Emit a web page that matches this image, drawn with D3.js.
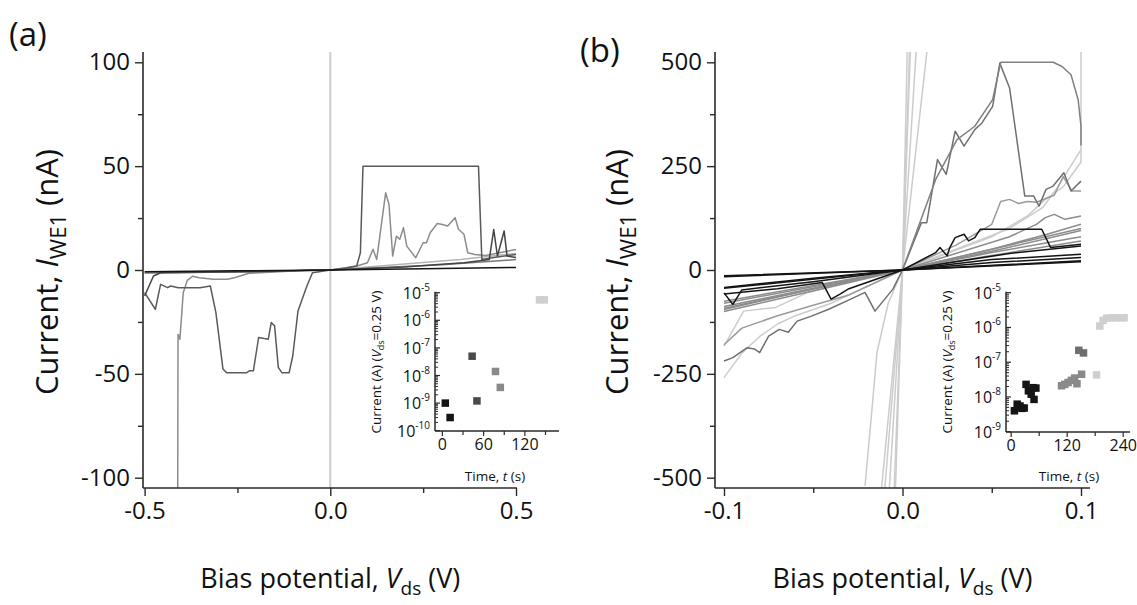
<!DOCTYPE html>
<html><head><meta charset="utf-8">
<script src="https://cdn.jsdelivr.net/npm/d3@7"></script>
<style>
body{margin:0;background:#fff}
svg{display:block}
text{font-family:'Open Sans',Lato,sans-serif;fill:#111}
</style>
</head><body>
<svg id="c" width="1137" height="605"></svg>
<script>
// ---------- Panel (a) data : [V (V), I (nA)] ----------
const aTicksY = [-100, -50, 0, 50, 100];
const aMinorY = [-75, -25, 25, 75];
const aTicksX = [-0.5, 0, 0.5];
const aMinorX = [-0.25, 0.25];

const aShort = [[-0.0004, -1000], [0.0004, 1000]];
const aLightFlat = [[-0.5, -1.2], [-0.2, -0.6], [0, 0], [0.35, 5], [0.5, 8]];
const aGreySpiky = [[-0.413, -300], [-0.41, -31], [-0.405, -33.3], [-0.396, -11], [-0.385, -5], [-0.371, -3],
  [-0.353, -3.7], [-0.315, -4.5], [-0.277, -4.5], [-0.258, -3.7], [-0.219, -1.6], [-0.15, -1], [-0.055, 0], [0, 0],
  [0.072, 1.9], [0.1, 3.5], [0.115, 10], [0.125, 5.1], [0.149, 37.2], [0.158, 31.6], [0.168, 6.7], [0.178, 16.3],
  [0.187, 14.8], [0.197, 20.4], [0.206, 11.5], [0.23, 5.9], [0.25, 13.1], [0.259, 13.1], [0.269, 17.9], [0.288, 22.4],
  [0.302, 21.9], [0.316, 21.2], [0.336, 25.2], [0.345, 19.6], [0.36, 17.2], [0.37, 8.3], [0.389, 7.5], [0.418, 7],
  [0.456, 8.3], [0.5, 9.9]];
const aGreyFlat = [[-0.5, -1.5], [-0.2, -0.8], [0, 0], [0.3, 2.5], [0.5, 5]];
const aDarkLoop = [[-0.5, -10.9], [-0.471, -18.9], [-0.457, -6.9], [-0.438, -8.5], [-0.43, -7.7], [-0.409, -8.5],
  [-0.389, -8.5], [-0.351, -8.5], [-0.323, -7.7], [-0.308, -20.5], [-0.289, -47.7], [-0.279, -49.5], [-0.226, -49.5],
  [-0.217, -48.5], [-0.207, -48.5], [-0.193, -32.5], [-0.178, -33], [-0.167, -33.3], [-0.159, -25.3], [-0.15, -26.9],
  [-0.14, -46.9], [-0.13, -49.5], [-0.111, -49.5], [-0.101, -41.3], [-0.087, -19.7], [-0.063, -7.7], [-0.048, -1.3],
  [0, 0], [0.04, 0.8], [0.071, 1.9], [0.081, 8.3], [0.088, 50], [0.399, 50], [0.408, 5.1], [0.44, 6], [0.5, 7.5]];
const aDarkSpiky = [[-0.5, -12.5], [-0.476, -2.9], [-0.457, -1.3], [-0.3, -1], [0, 0], [0.2, 1.5], [0.3, 2.8],
  [0.36, 3.5], [0.428, 5], [0.44, 19.5], [0.45, 6.7], [0.468, 18.8], [0.476, 6.7], [0.5, 6]];
const aBlackFlat = [[-0.5, -0.8], [-0.25, -0.4], [0, 0], [0.25, 0.6], [0.5, 1.2]];

// inset (a): [time (s), current (A)]
const aInsetBlack = [[5, 1.0e-9], [12, 3.0e-10]];
const aInsetDark = [[44, 5.0e-8], [51, 1.2e-9]];
const aInsetMid = [[78, 1.4e-8], [85, 3.7e-9]];
const aInsetLight = [[142, 5.5e-6], [149, 5.5e-6]];
const aInsetTicksX = [0, 60, 120];
const aInsetMinorX = [30, 90, 150];

// ---------- Panel (b) data ----------
const bTicksY = [-500, -250, 0, 250, 500];
const bMinorY = [-375, -125, 125, 375];
const bTicksX = [-0.1, 0, 0.1];
const bMinorX = [-0.05, 0.05];

const bLight1 = [[-0.0045, -600], [0, 0], [0.0045, 600]];
const bLight2 = [[-0.0084, -600], [0, 0], [0.0087, 600]];
const bLight3 = [[-0.0113, -600], [0, 0], [0.0156, 600]];
const bLight4 = [[-0.0134, -600], [0, 0], [0.005, 600]];
const bLight5 = [[-0.021, -520], [-0.017, -330], [-0.0143, -198], [-0.008, -80], [0, 0]];
const bLight6 = [[-0.0053, -600], [0, 0], [0.003, 600]];
const bLight7 = [[-0.1, -183], [-0.089, -99], [-0.071, -90], [-0.053, -54], [0, 0], [0.05, 80], [0.07, 130],
  [0.08, 170], [0.09, 200], [0.095, 230], [0.1, 260], [0.1, 800]];
const bLight8 = [[-0.1, -259], [-0.09, -200], [-0.08, -160], [-0.07, -130], [-0.06, -110], [-0.04, -80], [0, 0],
  [0.06, 100], [0.0785, 150], [0.087, 200], [0.1, 290]];

const bMid1 = [[-0.1, -95], [-0.05, -45], [0, 0], [0.05, 45], [0.1, 95]];
const bMid2 = [[-0.1, -100], [-0.06, -60], [0, 0], [0.05, 50], [0.08, 85], [0.1, 110]];
const bMid3 = [[-0.1, -88], [0, 0], [0.05, 42], [0.1, 80]];
const bMid4 = [[-0.1, -80], [0, 0], [0.06, 80], [0.075, 110], [0.08, 126], [0.085, 134], [0.091, 122], [0.1, 130]];
const bMid5 = [[-0.1, -75], [0, 0], [0.1, 100]];
const bMid6 = [[-0.1, -92], [0, 0], [0.1, 70]];
const bMid7 = [[-0.1, -180], [-0.09, -140], [-0.07, -110], [-0.05, -85], [-0.03, -60], [0, 0], [0.03, 60],
  [0.05, 110], [0.055, 165], [0.06, 170], [0.065, 160], [0.07, 165], [0.075, 163], [0.085, 180], [0.09, 225],
  [0.095, 190], [0.1, 190]];

const bDark1 = [[-0.1, -219], [-0.095, -211], [-0.087, -187], [-0.083, -190], [-0.08, -199], [-0.075, -159],
  [-0.069, -143], [-0.064, -150], [-0.059, -123], [-0.051, -111], [-0.041, -94], [-0.029, -70], [-0.021, -54],
  [-0.0154, -99], [-0.0054, -46], [0, 0], [0.0106, 114], [0.0136, 114], [0.0196, 266], [0.0245, 230], [0.0295, 334],
  [0.0345, 298], [0.0405, 338], [0.0445, 354], [0.0505, 394], [0.0545, 498], [0.06, 438], [0.0685, 178],
  [0.0735, 178], [0.0765, 154], [0.0804, 194], [0.0844, 202], [0.0904, 234], [0.0944, 190], [0.1, 214]];
const bDark2 = [[0, 0], [0.0186, 218], [0.0305, 314], [0.0405, 346], [0.0505, 410], [0.055, 500], [0.0844, 500],
  [0.0894, 490], [0.0944, 470], [0.0984, 410], [0.1, 346], [0.1, 300]];

const bBlack1 = [[-0.1, -14], [0, 0], [0.1, 20]];
const bBlack2 = [[-0.1, -16], [0, 0], [0.1, 22]];
const bBlack3 = [[-0.1, -42], [-0.05, -20], [0, 0], [0.05, 18], [0.1, 30]];
const bBlack4 = [[-0.1, -55], [-0.095, -83], [-0.09, -48], [-0.05, -28], [0, 0], [0.05, 25], [0.1, 38]];
const bBlack5 = [[-0.1, -58], [-0.07, -45], [-0.045, -30], [-0.04, -70], [-0.035, -58], [-0.03, -45], [0, 0],
  [0.0186, 42], [0.021, 54], [0.025, 34], [0.0265, 54], [0.0295, 78], [0.0345, 86], [0.037, 70], [0.0405, 78],
  [0.0435, 98], [0.05, 98], [0.078, 98], [0.083, 54], [0.1, 62]];
const bBlack6 = [[-0.1, -44], [0, 0], [0.06, 40], [0.1, 58]];

// inset (b)
const bInsetBlack = [[8, 4.0e-9], [14, 6.2e-9], [20, 5.5e-9], [24, 4.7e-9], [29, 4.8e-9], [33, 2.3e-8], [38, 1.5e-8],
  [44, 1.2e-8], [48, 1.85e-8], [50, 8.5e-9], [54, 1.8e-8]];
const bInsetMid = [[109, 2.1e-8], [116, 2.3e-8], [123, 2.6e-8], [130, 3.0e-8], [137, 3.5e-8], [142, 2.4e-8], [152, 4.5e-8]];
const bInsetDark = [[146, 2.2e-7], [156, 1.85e-7]];
const bInsetLight = [[184, 4.3e-8], [191, 1.1e-6], [198, 1.6e-6], [206, 1.85e-6], [216, 1.9e-6], [226, 1.9e-6],
  [236, 1.9e-6], [243, 1.9e-6]];
const bInsetTicksX = [0, 120, 240];
const bInsetMinorX = [60, 180];

// ---------- styles ----------
const C = {black: '#141414', dark: '#5a5a5a', mid: '#8c8c8c', light: '#cccccc', axis: '#2a2a2a'};
const F = {tick: 24, xTitle: 27, yTitle: 31, sub: 19, ySub: 22, label: 33, inTick: 16, inSup: 10, inTitle: 13.5};

const svg = d3.select('#c');

function styleAxis(g, fs) {
  g.attr('font-size', null).attr('font-family', null);
  g.select('.domain').remove();
  g.selectAll('line').attr('stroke', C.axis).attr('stroke-width', 1.4);
  g.selectAll('text').attr('font-size', fs).attr('fill', '#111');
}

function panel(p) {
  const x = d3.scaleLinear().domain(p.xDom).range(p.xRng);
  const y = d3.scaleLinear().domain(p.yDom).range(p.yRng);
  const id = 'clip' + p.name;
  svg.append('clipPath').attr('id', id).append('rect')
    .attr('x', p.axX).attr('y', p.top).attr('width', p.axEnd - p.axX).attr('height', p.axY - p.top);
  const gl = svg.append('g').attr('clip-path', `url(#${id})`);
  const line = d3.line().x(d => x(d[0])).y(d => y(d[1]));
  p.series.forEach(s => {
    gl.append('path').attr('d', line(s.data)).attr('fill', 'none')
      .attr('stroke', s.color).attr('stroke-width', s.w || 1.5).attr('stroke-linejoin', 'round');
  });
  // axes
  const gy = svg.append('g').attr('transform', `translate(${p.axX},0)`)
    .call(d3.axisLeft(y).tickValues(p.yTicks).tickSize(8).tickPadding(5).tickFormat(d => String(d)));
  styleAxis(gy, F.tick);
  const gym = svg.append('g').attr('transform', `translate(${p.axX},0)`)
    .call(d3.axisLeft(y).tickValues(p.yMinor).tickSize(5).tickFormat(''));
  styleAxis(gym, F.tick);
  const gx = svg.append('g').attr('transform', `translate(0,${p.axY})`)
    .call(d3.axisBottom(x).tickValues(p.xTicks).tickSize(8).tickPadding(6).tickFormat(d => d.toFixed(1)));
  styleAxis(gx, F.tick);
  const gxm = svg.append('g').attr('transform', `translate(0,${p.axY})`)
    .call(d3.axisBottom(x).tickValues(p.xMinor).tickSize(5).tickFormat(''));
  styleAxis(gxm, F.tick);
  svg.append('line').attr('x1', p.axX).attr('x2', p.axX).attr('y1', p.top).attr('y2', p.axY)
    .attr('stroke', C.axis).attr('stroke-width', 1.6);
  svg.append('line').attr('x1', p.axX).attr('x2', p.axEnd).attr('y1', p.axY).attr('y2', p.axY)
    .attr('stroke', C.axis).attr('stroke-width', 1.6);

  // titles
  const xt = svg.append('text').attr('x', x(0)).attr('y', 588).attr('text-anchor', 'middle').attr('font-size', F.xTitle);
  xt.append('tspan').text('Bias potential, ');
  xt.append('tspan').attr('font-style', 'italic').text('V');
  xt.append('tspan').attr('font-size', F.sub).attr('dy', 7).text('ds');
  xt.append('tspan').attr('dy', -7).text(' (V)');

  const yt = svg.append('text').attr('transform', `translate(${p.yTitleX},272) rotate(-90)`)
    .attr('text-anchor', 'middle').attr('font-size', F.yTitle);
  yt.append('tspan').text('Current, ');
  yt.append('tspan').attr('font-style', 'italic').text('I');
  yt.append('tspan').attr('font-size', F.ySub).attr('dy', 8).text('WE1');
  yt.append('tspan').attr('dy', -8).text(' (nA)');

  svg.append('text').attr('x', p.labX).attr('y', p.labY).attr('font-size', F.label).text(p.label);

  // inset
  const q = p.inset;
  const ix = d3.scaleLinear().domain(q.xDom).range(q.xRng);
  const iy = d3.scaleLog().domain(q.yDom).range(q.yRng);
  const sq = 7.5;
  q.groups.forEach(gp => {
    svg.append('g').selectAll('rect').data(gp.data).join('rect')
      .attr('x', d => ix(d[0]) - sq / 2).attr('y', d => iy(d[1]) - sq / 2)
      .attr('width', sq).attr('height', sq).attr('fill', gp.color);
  });
  const decades = d3.range(Math.round(Math.log10(q.yDom[0])), Math.round(Math.log10(q.yDom[1])) + 1);
  const minors = [];
  decades.slice(0, -1).forEach(e => { for (let m = 2; m <= 9; m++) minors.push(m * Math.pow(10, e)); });
  const ia = svg.append('g');
  ia.selectAll('line.mn').data(minors).join('line')
    .attr('x1', q.axX).attr('x2', q.axX + 3).attr('y1', d => iy(d)).attr('y2', d => iy(d))
    .attr('stroke', C.axis).attr('stroke-width', 1);
  ia.selectAll('line.mj').data(decades).join('line')
    .attr('x1', q.axX).attr('x2', q.axX + 5).attr('y1', d => iy(Math.pow(10, d))).attr('y2', d => iy(Math.pow(10, d)))
    .attr('stroke', C.axis).attr('stroke-width', 1.2);
  const lt = ia.selectAll('text.yl').data(decades).join('text')
    .attr('x', q.axX - 5).attr('y', d => iy(Math.pow(10, d)) + 6).attr('text-anchor', 'end').attr('font-size', F.inTick);
  lt.append('tspan').text('10');
  lt.append('tspan').attr('font-size', F.inSup).attr('dy', -8).text(d => '-' + Math.abs(d));
  ia.append('line').attr('x1', q.axX).attr('x2', q.axX).attr('y1', q.yRng[1] - 1).attr('y2', q.axY)
    .attr('stroke', C.axis).attr('stroke-width', 1.5);
  ia.append('line').attr('x1', q.axX).attr('x2', q.axEnd).attr('y1', q.axY).attr('y2', q.axY)
    .attr('stroke', C.axis).attr('stroke-width', 1.5);
  const gix = svg.append('g').attr('transform', `translate(0,${q.axY})`)
    .call(d3.axisBottom(ix).tickValues(q.xTicks).tickSize(5).tickPadding(3).tickFormat(d => String(d)));
  styleAxis(gix, F.inTick);
  gix.selectAll('line').attr('stroke-width', 1.2);
  const gixm = svg.append('g').attr('transform', `translate(0,${q.axY})`)
    .call(d3.axisBottom(ix).tickValues(q.xMinor).tickSize(4).tickFormat(''));
  styleAxis(gixm, F.inTick);
  gixm.selectAll('line').attr('stroke-width', 1.2);

  const it = svg.append('text').attr('x', q.xTitleX).attr('y', 481).attr('text-anchor', 'middle').attr('font-size', F.inTitle);
  it.append('tspan').text('Time, ');
  it.append('tspan').attr('font-style', 'italic').text('t');
  it.append('tspan').text(' (s)');
  const iyt = svg.append('text').attr('transform', `translate(${q.yTitleX},${q.yTitleY}) rotate(-90)`)
    .attr('text-anchor', 'middle').attr('font-size', F.inTitle);
  iyt.append('tspan').text('Current (A) (');
  iyt.append('tspan').attr('font-style', 'italic').text('V');
  iyt.append('tspan').attr('font-size', 9).attr('dy', 3).text('ds');
  iyt.append('tspan').attr('dy', -3).text('=0.25 V)');
}

panel({
  name: 'a', label: '(a)', labX: 9, labY: 46,
  xDom: [-0.5, 0.5], xRng: [144.6, 516], yDom: [-100, 100], yRng: [477.7, 62.3],
  axX: 143, axY: 488, axEnd: 517, top: 52, yTitleX: 58,
  yTicks: aTicksY, yMinor: aMinorY, xTicks: aTicksX, xMinor: aMinorX,
  series: [
    {data: aShort, color: C.light, w: 2},
    {data: aLightFlat, color: '#b4b4b4'},
    {data: aGreySpiky, color: C.mid},
    {data: aGreyFlat, color: '#777'},
    {data: aDarkLoop, color: C.dark},
    {data: aDarkSpiky, color: '#444'},
    {data: aBlackFlat, color: C.black}
  ],
  inset: {
    xDom: [-10, 170], xRng: [435, 558.75], yDom: [1e-10, 1e-5], yRng: [430.7, 292.7],
    axX: 435, axY: 431, axEnd: 559, xTicks: aInsetTicksX, xMinor: aInsetMinorX,
    xTitleX: 495, yTitleX: 381, yTitleY: 362,
    groups: [
      {data: aInsetBlack, color: C.black},
      {data: aInsetDark, color: '#4a4a4a'},
      {data: aInsetMid, color: '#8a8a8a'},
      {data: aInsetLight, color: '#cfcfcf'}
    ]
  }
});

panel({
  name: 'b', label: '(b)', labX: 580, labY: 62,
  xDom: [-0.1, 0.1], xRng: [724, 1081], yDom: [-500, 500], yRng: [477.7, 62.3],
  axX: 715, axY: 488, axEnd: 1090, top: 52, yTitleX: 628,
  yTicks: bTicksY, yMinor: bMinorY, xTicks: bTicksX, xMinor: bMinorX,
  series: [
    {data: bLight1, color: C.light}, {data: bLight2, color: C.light}, {data: bLight3, color: C.light},
    {data: bLight4, color: C.light}, {data: bLight5, color: C.light}, {data: bLight6, color: C.light},
    {data: bLight7, color: C.light}, {data: bLight8, color: C.light},
    {data: bMid1, color: C.mid}, {data: bMid2, color: C.mid}, {data: bMid3, color: C.mid},
    {data: bMid4, color: C.mid}, {data: bMid5, color: C.mid}, {data: bMid6, color: C.mid},
    {data: bMid7, color: '#9a9a9a'},
    {data: bDark1, color: '#707070'}, {data: bDark2, color: '#808080'},
    {data: bBlack1, color: C.black}, {data: bBlack2, color: C.black}, {data: bBlack3, color: C.black},
    {data: bBlack4, color: C.black}, {data: bBlack5, color: C.black}, {data: bBlack6, color: C.black}
  ],
  inset: {
    xDom: [-10, 255], xRng: [1006, 1129.7], yDom: [1e-9, 1e-5], yRng: [431.7, 292.7],
    axX: 1006, axY: 432, axEnd: 1130, xTicks: bInsetTicksX, xMinor: bInsetMinorX,
    xTitleX: 1069, yTitleX: 952, yTitleY: 362,
    groups: [
      {data: bInsetBlack, color: C.black},
      {data: bInsetMid, color: '#8a8a8a'},
      {data: bInsetDark, color: '#6e6e6e'},
      {data: bInsetLight, color: '#cfcfcf'}
    ]
  }
});
</script>
</body></html>
